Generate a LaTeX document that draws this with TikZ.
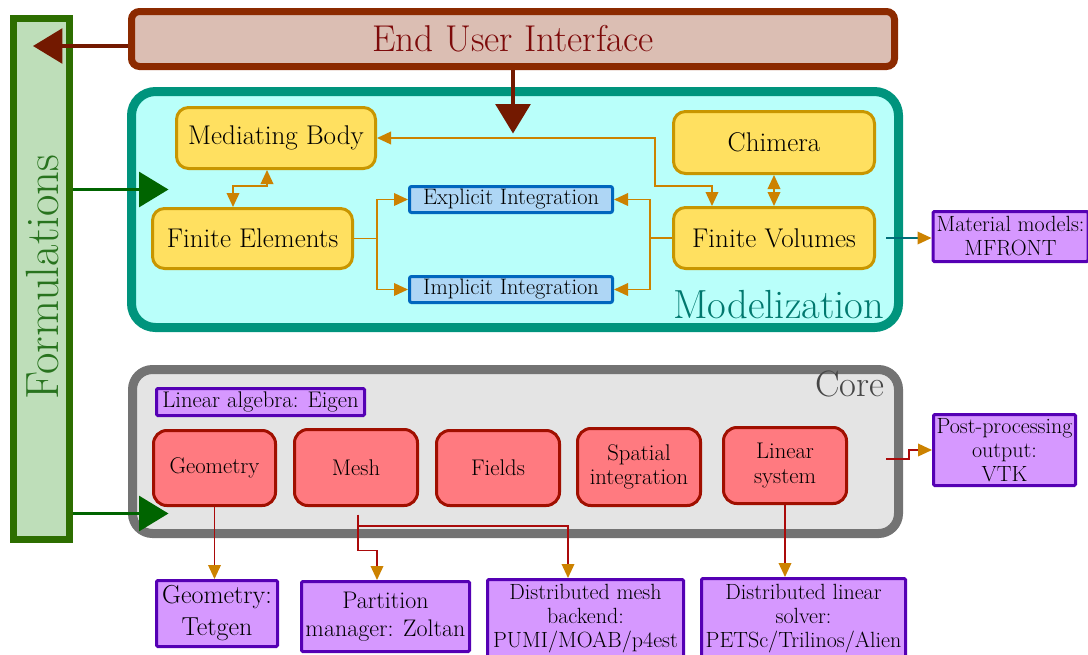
\documentclass[tikz,border=0pt]{standalone}
\usetikzlibrary{arrows.meta,calc}
\newcommand\pxu{0.75pt}
\definecolor{formbd}{RGB}{45,110,0}
\definecolor{formfl}{RGB}{190,222,185}
\definecolor{formtx}{RGB}{40,115,30}
\definecolor{greenarr}{RGB}{0,100,0}
\definecolor{euibd}{RGB}{140,42,0}
\definecolor{euifl}{RGB}{219,190,179}
\definecolor{euitx}{RGB}{125,10,10}
\definecolor{brownarr}{RGB}{115,25,0}
\definecolor{modbd}{RGB}{0,148,125}
\definecolor{modfl}{RGB}{185,255,250}
\definecolor{modtx}{RGB}{0,120,110}
\definecolor{ybd}{RGB}{200,150,0}
\definecolor{yfl}{RGB}{255,224,96}
\definecolor{occ}{RGB}{204,130,0}
\definecolor{bbd}{RGB}{0,102,190}
\definecolor{bfl}{RGB}{174,214,245}
\definecolor{pbd}{RGB}{85,0,180}
\definecolor{pfl}{RGB}{214,152,255}
\definecolor{corebd}{RGB}{115,115,115}
\definecolor{corefl}{RGB}{228,228,228}
\definecolor{coretx}{RGB}{70,70,70}
\definecolor{rbd}{RGB}{160,15,0}
\definecolor{rfl}{RGB}{255,122,128}
\definecolor{rcc}{RGB}{170,10,10}
\definecolor{tealc}{RGB}{0,110,120}
\tikzset{
  formbox/.style={draw=formbd, fill=formfl, line width=5.25pt, inner sep=0pt},
  euibox/.style={draw=euibd, fill=euifl, line width=5.25pt, rounded corners=6pt, inner sep=0pt, text=euitx, font=\fontsize{28}{32}\selectfont},
  modbox/.style={draw=modbd, fill=modfl, line width=6.75pt, rounded corners=18pt, inner sep=0pt},
  corebox/.style={draw=corebd, fill=corefl, line width=6.75pt, rounded corners=15pt, inner sep=0pt},
  yel/.style={draw=ybd, fill=yfl, line width=2.25pt, rounded corners=9pt, inner sep=0pt, font=\fontsize{20.3}{24}\selectfont},
  blu/.style={draw=bbd, fill=bfl, line width=2.25pt, rounded corners=1.5pt, inner sep=0pt, font=\fontsize{16.8}{20}\selectfont},
  pur/.style={draw=pbd, fill=pfl, line width=2.25pt, rounded corners=1pt, inner sep=0pt, align=center, font=\fontsize{16.5}{18}\selectfont},
  redbox/.style={draw=rbd, fill=rfl, line width=2.25pt, rounded corners=10pt, inner sep=0pt, align=center, font=\fontsize{17}{18.5}\selectfont},
  tipo/.tip={Triangle[length=10.5pt,width=9.5pt,color=occ]},
  oconn/.style={draw=occ, line width=1.1pt},
  rconn/.style={draw=rcc, line width=1.1pt, -tipo},
  bigarr/.style={line width=2.6pt, -{Triangle[length=22pt,width=26pt]}},
}
\begin{document}
\begin{tikzpicture}[x=0.75pt,y=-0.75pt]
\useasboundingbox (0,0) rectangle (1088,654);
% containers
\node[formbox, minimum width=56*\pxu, minimum height=521*\pxu] (FORM) at (41.5,279) {};
\node[rotate=90, text=formtx, font=\fontsize{35}{40}\selectfont] (FORMT) at (42,277) {Formulations};
\node[euibox, minimum width=763*\pxu, minimum height=55*\pxu] (EUI) at (513,39) {End User Interface};
\node[modbox, minimum width=767*\pxu, minimum height=236*\pxu] (MOD) at (515,209.5) {};
\node[corebox, minimum width=766*\pxu, minimum height=164*\pxu] (CORE) at (515.5,451.5) {};
\node[anchor=base east, text=modtx, font=\fontsize{30.5}{34}\selectfont] (MODL) at ($(MOD.south east)+(-14,-13.5)$) {Modelization};
\node[anchor=base east, text=coretx, font=\fontsize{27.5}{32}\selectfont] (COREL) at ($(CORE.north east)+(-14,31)$) {Core};
% modelization content
\node[yel, minimum width=199*\pxu, minimum height=61*\pxu] (MB) at (276,138) {Mediating Body};
\node[yel, minimum width=200*\pxu, minimum height=60*\pxu] (FE) at (252.5,238.5) {Finite Elements};
\node[yel, minimum width=201*\pxu, minimum height=62*\pxu] (CH) at (774,142.5) {Chimera};
\node[yel, minimum width=201*\pxu, minimum height=61*\pxu] (FV) at (774,238) {Finite Volumes};
\node[blu, minimum width=203*\pxu, minimum height=26*\pxu] (EI) at (511,199.5) {Explicit Integration};
\node[blu, minimum width=203*\pxu, minimum height=26*\pxu] (II) at (511,289.5) {Implicit Integration};
\node[pur, minimum width=155*\pxu, minimum height=50*\pxu] (MAT) at (1010.5,236.5) {Material models:\\MFRONT};
% core content
\node[pur, minimum width=208*\pxu, minimum height=27*\pxu, font=\fontsize{17}{18}\selectfont] (EIG) at (260.5,402) {Linear algebra: Eigen};
\node[redbox, minimum width=122*\pxu, minimum height=75*\pxu] (GEO) at (214.5,468) {Geometry};
\node[redbox, minimum width=123*\pxu, minimum height=76*\pxu] (MESH) at (356,467.5) {Mesh};
\node[redbox, minimum width=123*\pxu, minimum height=75*\pxu] (FLD) at (498,468) {Fields};
\node[redbox, minimum width=123*\pxu, minimum height=77*\pxu] (SPI) at (639,467) {Spatial\\integration};
\node[redbox, minimum width=123*\pxu, minimum height=76*\pxu] (LS) at (785,465.5) {Linear\\system};
\node[pur, minimum width=142*\pxu, minimum height=71*\pxu] (POST) at (1004.5,450) {Post-processing\\output:\\VTK};
% bottom boxes
\node[pur, minimum width=121*\pxu, minimum height=66*\pxu, font=\fontsize{19.5}{24}\selectfont] (GT) at (217,613.5) {Geometry:\\Tetgen};
\node[pur, minimum width=168*\pxu, minimum height=70*\pxu, font=\fontsize{18}{21}\selectfont] (PART) at (385.5,616.5) {Partition\\manager: Zoltan};
\node[pur, minimum width=196*\pxu, minimum height=79*\pxu] (DM) at (585.5,619) {Distributed mesh\\backend:\\PUMI/MOAB/p4est};
\node[pur, minimum width=204*\pxu, minimum height=80*\pxu] (DL) at (803.5,618.5) {Distributed linear\\solver:\\PETSc/Trilinos/Alien};
% big arrows
\coordinate (a1) at ($(EUI.west)+(0,7)$);
\draw[bigarr, draw=brownarr, fill=brownarr] (a1) -- ($(a1 -| FORM.center)+(-8.5,0)$);
\draw[bigarr, draw=brownarr, fill=brownarr] (EUI.south) -- ++(0,63.5);
\draw[bigarr, draw=greenarr, fill=greenarr] ($(FORM.north east)+(0,174.5)$) -- ++(95.5,0);
\draw[bigarr, draw=greenarr, fill=greenarr] ($(FORM.north east)+(0,498.5)$) -- ++(95.5,0);
% modelization connectors
\draw[oconn, tipo-tipo] ([xshift=-9*\pxu]MB.south) -- ++(0,16) -| ([xshift=-19.5*\pxu]FE.north);
\draw[oconn] (FE.east) -- ++(23,0) coordinate (fes);
\draw[oconn, -tipo] (fes) |- (EI.west);
\draw[oconn, -tipo] (fes) |- (II.west);
\draw[oconn] (FV.west) -- ++(-22,0) coordinate (fvs);
\draw[oconn, -tipo] (fvs) |- (EI.east);
\draw[oconn, -tipo] (fvs) |- (II.east);
\draw[oconn, tipo-tipo] (MB.east) -- ++(278,0) -- ++(0,48) -| ([xshift=-62*\pxu]FV.north);
\draw[oconn, tipo-tipo] (CH.south) -- (FV.north);
\draw[draw=tealc, line width=1.1pt, -tipo] ([xshift=10*\pxu]FV.east) -- (FV.east -| MAT.west);
% core connectors
\draw[rconn] ($(LS.east)+(38,-6.5)$) -- ++(23,0) |- (POST.west);
\draw[rconn] (GEO.south) -- (GEO.south |- GT.north);
\draw[rconn] ($(MESH.south)+(2,7.5)$) -- ++(0,36) -| ([xshift=-8.5*\pxu]PART.north);
\coordinate (mb) at ($(MESH.south)+(2,19)$);
\draw[rconn] (mb) -| ([xshift=-17.5*\pxu]DM.north);
\draw[rconn] (LS.south) -- (LS.south |- DL.north);
\end{tikzpicture}
\end{document}
